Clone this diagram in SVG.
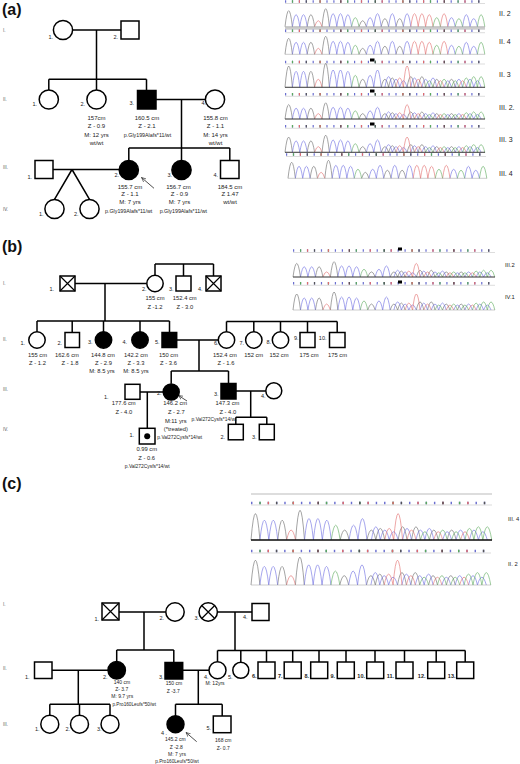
<svg xmlns="http://www.w3.org/2000/svg" width="520" height="764" viewBox="0 0 520 764">
<style>
text{font-family:'Liberation Sans',Arial,sans-serif;fill:#222}
.pl{font-size:16px;font-weight:bold;fill:#111}
.gl{font-size:4.5px;fill:#555}
.nl{font-size:5.5px;text-anchor:end}
.nb{font-weight:bold}
.t6{font-size:6px;text-anchor:middle}
.t58{font-size:5.8px;text-anchor:middle}
.t5{font-size:5px;text-anchor:middle}
.ma{font-size:5.3px;text-anchor:middle}
.mb{font-size:4.9px;text-anchor:middle}
.mc{font-size:4.7px;text-anchor:middle}
.cl{font-size:7px;fill:#222}
.cls{font-size:5.8px;fill:#222}
.ln{stroke:#000;stroke-width:1.5;fill:none}
.s{stroke:#000;stroke-width:1.5;fill:#fff}
.f{fill:#000}
.x{stroke:#000;stroke-width:1.2;fill:none}
.ar{stroke:#222;stroke-width:0.8;fill:none;marker-end:url(#ah)}
.cG,.cC,.cT,.cA{fill:none;stroke-width:0.6;vector-effect:non-scaling-stroke}
.cG{stroke:#666}
.cC{stroke:#6a6ae0}
.cT{stroke:#e06a6a}
.cA{stroke:#5aaa5a}
.bl{stroke:#999;stroke-width:0.5;fill:none;vector-effect:non-scaling-stroke}
.bk{stroke:#222;stroke-width:0.8;fill:none}
</style>
<defs>
<marker id="ah" viewBox="0 0 10 10" refX="9" refY="5" markerWidth="5" markerHeight="5" orient="auto" markerUnits="userSpaceOnUse">
<path d="M0,1L9,5L0,9" fill="none" stroke="#222" stroke-width="1.2"/>
</marker>
<g id="cln">
<path class="cG" d="M0,0q3.7,-32 7.4,0M22.2,0q3.7,-24 7.4,0M37,0q3.7,-36 7.4,0M74,0q3.7,-12 7.4,0M96.2,0q3.7,-16 7.4,0M111,0q3.7,-16 7.4,0"/>
<path class="cC" d="M7.4,0q3.7,-24 7.4,0M14.8,0q3.7,-24 7.4,0M44.4,0q3.7,-26 7.4,0M51.8,0q3.7,-26 7.4,0M59.2,0q3.7,-24 7.4,0M81.4,0q3.7,-18 7.4,0M88.8,0q3.7,-26 7.4,0M103.6,0q3.7,-26 7.4,0M118.4,0q3.7,-26 7.4,0M162.8,0q3.7,-18 7.4,0M177.6,0q3.7,-24 7.4,0M185,0q3.7,-16 7.4,0"/>
<path class="cT" d="M29.6,0q3.7,-12 7.4,0M125.8,0q3.7,-26 7.4,0M133.2,0q3.7,-26 7.4,0M140.6,0q3.7,-24 7.4,0M155.4,0q3.7,-26 7.4,0"/>
<path class="cA" d="M66.6,0q3.7,-18 7.4,0M148,0q3.7,-18 7.4,0M170.2,0q3.7,-16 7.4,0M192.4,0q3.7,-24 7.4,0"/>
<path class="bl" d="M0,0H200"/>
</g>
<g id="het">
<path class="cG" d="M0,0q3.7,-32 7.4,0M22.2,0q3.7,-24 7.4,0M37,0q3.7,-36 7.4,0M74,0q3.7,-12 7.4,0M96.2,0q3.7,-12 7.4,0M103.6,0q3.7,-14 7.4,0M122.1,0q3.7,-16 7.4,0M133.2,0q3.7,-16 7.4,0M148,0q3.7,-12 7.4,0M162.8,0q3.7,-12 7.4,0"/>
<path class="cC" d="M7.4,0q3.7,-24 7.4,0M14.8,0q3.7,-24 7.4,0M44.4,0q3.7,-26 7.4,0M51.8,0q3.7,-26 7.4,0M59.2,0q3.7,-24 7.4,0M81.4,0q3.7,-18 7.4,0M88.8,0q3.7,-26 7.4,0M99.9,0q3.7,-16 7.4,0M107.3,0q3.7,-12 7.4,0M114.7,0q3.7,-10 7.4,0M125.8,0q3.7,-14 7.4,0M136.9,0q3.7,-12 7.4,0M144.3,0q3.7,-14 7.4,0M159.1,0q3.7,-10 7.4,0M170.2,0q3.7,-12 7.4,0M181.3,0q3.7,-12 7.4,0M188.7,0q3.7,-10 7.4,0"/>
<path class="cT" d="M29.6,0q3.7,-12 7.4,0M111,0q3.7,-14 7.4,0M118.4,0q3.7,-32 7.4,0M129.5,0q3.7,-12 7.4,0M151.7,0q3.7,-10 7.4,0M173.9,0q3.7,-10 7.4,0"/>
<path class="cA" d="M66.6,0q3.7,-18 7.4,0M140.6,0q3.7,-10 7.4,0M155.4,0q3.7,-12 7.4,0M166.5,0q3.7,-10 7.4,0M177.6,0q3.7,-14 7.4,0M185,0q3.7,-16 7.4,0M192.4,0q3.7,-16 7.4,0"/>
<path class="bl" d="M0,0H200"/>
</g>
<g id="sq">
<path d="M0,0H200" stroke="#6b6fd0" stroke-width="2.4" stroke-dasharray="1.2 5.7" fill="none"/>
<path d="M6.9,0H200" stroke="#5aaa5a" stroke-width="2.4" stroke-dasharray="1.2 26.4" fill="none"/>
<path d="M13.8,0H200" stroke="#e06a6a" stroke-width="2.4" stroke-dasharray="1.2 19.5" fill="none"/>
<path d="M20.7,0H200" stroke="#555" stroke-width="2.4" stroke-dasharray="1.2 33.3" fill="none"/>
<path d="M0,2H200" stroke="#aaa" stroke-width="0.4" fill="none"/>
</g>
</defs>
<rect width="520" height="764" fill="#fff"/>

<!-- ===== Panel (a) ===== -->
<text class="pl" x="2" y="15">(a)</text>
<g id="a-gen">
<text class="gl" x="3" y="31.5">I.</text>
<text class="gl" x="3" y="101">II.</text>
<text class="gl" x="3" y="169">III.</text>
<text class="gl" x="3" y="211">IV.</text>
</g>
<g id="a-connectors">
<path class="ln" d="M72.6,30H121M96.5,30V89.9M48.8,79.3H146.5M48.8,79.3V89.9M146.5,79.3V90.5M156,99.5H205.4M181.5,99.5V160.4M128.8,148H229.8M128.8,148V160.4M229.8,148V160.5M53,169.5H119.2M72,169.5L54.5,199.4M72,169.5L89.5,199.4"/>
<path class="ar" d="M154,188.3L141.5,177.5"/>
</g>
<g id="a-I1"><circle class="s" cx="63" cy="30" r="9.6"/><text class="nl" x="53" y="38.5">1.</text></g>
<g id="a-I2"><rect class="s" x="121" y="21" width="18" height="18"/><text class="nl" x="118" y="38.5">2.</text></g>
<g id="a-II1"><circle class="s" cx="48.8" cy="99.5" r="9.6"/><text class="nl" x="37" y="106">1.</text></g>
<g id="a-II2"><circle class="s" cx="96.5" cy="99.5" r="9.6"/><text class="nl" x="85" y="106">2.</text>
<text class="t6" x="96.5" y="119.5">157cm</text><text class="t6" x="96.5" y="128">Z - 0.9</text><text class="t6" x="96.5" y="137">M: 12 yrs</text><text class="t6" x="96.5" y="145">wt/wt</text></g>
<g id="a-II3"><rect class="s f" x="137.5" y="90.5" width="18.5" height="18.5"/><text class="nl" x="134" y="104.5">3.</text>
<text class="t6" x="147" y="119.5">160.5 cm</text><text class="t6" x="147" y="128">Z - 2.1</text><text class="ma" x="147.5" y="137">p.Gly199Alafs*11/wt</text></g>
<g id="a-II4"><circle class="s" cx="215" cy="99.5" r="9.6"/><text class="nl" x="206" y="105">4.</text>
<text class="t6" x="215.5" y="119.5">155.8 cm</text><text class="t6" x="215.5" y="128">Z - 1.1</text><text class="t6" x="215.5" y="137">M: 14 yrs</text><text class="t6" x="215.5" y="145">wt/wt</text></g>
<g id="a-III1"><rect class="s" x="35" y="160.5" width="18" height="18"/><text class="nl" x="32" y="179">1.</text></g>
<g id="a-III2"><circle class="s f" cx="128.8" cy="170" r="9.6"/><text class="nl" x="119" y="177">2.</text>
<text class="t6" x="130" y="188.5">155.7 cm</text><text class="t6" x="130" y="196">Z - 1.1</text><text class="t6" x="130" y="204">M: 7 yrs</text><text class="ma" x="128.7" y="212.5">p.Gly199Alafs*11/wt</text></g>
<g id="a-III3"><circle class="s f" cx="181.5" cy="170" r="9.6"/><text class="nl" x="172" y="177">3.</text>
<text class="t6" x="178.5" y="188.5">156.7 cm</text><text class="t6" x="179.5" y="196">Z - 0.9</text><text class="t6" x="179.5" y="204">M: 7 yrs</text><text class="ma" x="183.3" y="212.5">p.Gly199Alafs*11/wt</text></g>
<g id="a-III4"><rect class="s" x="220.5" y="160.5" width="18.5" height="18"/><text class="nl" x="218" y="177">4.</text>
<text class="t6" x="230" y="188.5">184.5 cm</text><text class="t6" x="230" y="196">Z 1.47</text><text class="t6" x="230" y="204">wt/wt</text></g>
<g id="a-IV1"><circle class="s" cx="54.5" cy="209" r="9.6"/><text class="nl" x="43.5" y="216">1.</text></g>
<g id="a-IV2"><circle class="s" cx="89.5" cy="209" r="9.6"/><text class="nl" x="78.5" y="216">2.</text></g>

<g id="a-chromatograms">
<use href="#sq" transform="translate(285,1.5)"/>
<rect x="285" y="26.7" width="200" height="3" fill="#ccc"/>
<use href="#cln" transform="translate(285,26.7)"/>
<use href="#sq" transform="translate(285,30.7)"/>
<use href="#cln" transform="translate(285,54.3)"/>
<rect x="370" y="58.5" width="4.5" height="3" fill="#000"/>
<use href="#sq" transform="translate(285,62)"/>
<use href="#het" transform="translate(285,87.3) scale(1,1.33)"/>
<path class="bk" d="M285,87.3H485"/>
<rect x="370" y="89.5" width="4.5" height="3" fill="#000"/>
<use href="#sq" transform="translate(285,94.3)"/>
<use href="#het" transform="translate(285,119) scale(1,0.9)"/>
<path class="bk" d="M285,119H485"/>
<rect x="370" y="122.5" width="4.5" height="3" fill="#000"/>
<use href="#sq" transform="translate(285,126.3)"/>
<use href="#het" transform="translate(285,152.3) scale(1,0.95)"/>
<path class="bk" d="M285,152.3H485"/>
<use href="#sq" transform="translate(286,154.5)"/>
<use href="#cln" transform="translate(288,178.3) scale(0.995,1)"/>
<text class="cl" x="499" y="15.5">II. 2</text>
<text class="cl" x="499" y="44">II. 4</text>
<text class="cl" x="499" y="77">II. 3</text>
<text class="cl" x="499" y="109.5">III. 2.</text>
<text class="cl" x="499" y="141.5">III. 3</text>
<text class="cl" x="499" y="175.5">III. 4</text>
</g>

<!-- ===== Panel (b) ===== -->
<text class="pl" x="2" y="252">(b)</text>
<g id="b-gen">
<text class="gl" x="3" y="284.5">I.</text>
<text class="gl" x="3" y="341">II.</text>
<text class="gl" x="3" y="391">III.</text>
<text class="gl" x="3" y="431">IV.</text>
</g>
<g id="b-connectors">
<path class="ln" d="M155,264H213.5M155,264V275.3M183.5,264V276M213.5,264V276M75,283.5H146.8M105,283.5V321M37,321H169.5M37,321V331.8M72.2,321V332.5M103.5,321V331.8M140,321V331.8M169.5,321V332.5M176.7,340H218.3M199,340V371M226.5,321.5H337.2M226.5,321.5V331.8M253.8,321.5V331.8M280.5,321.5V331.8M307.5,321.5V332.5M337.2,321.5V332.5M171.2,371H228.5M171.2,371V383.8M228.5,371V383.5M140,392H163M147.3,392V428.3M236,391H265.8M250.7,391V417.3M235.8,417.3H266.8M235.8,417.3V424.3M266.8,417.3V424.3"/>
<path class="ar" d="M187,401L178.5,395.5"/>
</g>
<g id="b-I1"><rect class="s" x="60" y="276" width="15" height="15"/><path class="x" d="M60,276L75,291M75,276L60,291"/><text class="nl" x="54" y="291">1.</text></g>
<g id="b-I2"><circle class="s" cx="155" cy="283.5" r="8.2"/><text class="nl" x="146.5" y="291">2.</text>
<text class="t58" x="155" y="300">155 cm</text><text class="t58" x="155" y="308.5">Z -1.2</text></g>
<g id="b-I3"><rect class="s" x="176" y="276" width="15" height="15"/><text class="nl" x="173.5" y="291">3.</text>
<text class="t58" x="184.8" y="300">152.4 cm</text><text class="t58" x="184.8" y="308.5">Z - 3.0</text></g>
<g id="b-I4"><rect class="s" x="206" y="276" width="15" height="15"/><path class="x" d="M206,276L221,291M221,276L206,291"/><text class="nl" x="202.5" y="291">4.</text></g>
<g id="b-II1"><circle class="s" cx="37" cy="340" r="8.2"/><text class="nl" x="25" y="345">1.</text>
<text class="t58" x="37.5" y="357">155 cm</text><text class="t58" x="37.5" y="365">Z - 1.2</text></g>
<g id="b-II2"><rect class="s" x="65" y="332.5" width="14.5" height="15"/><text class="nl" x="62" y="345">2.</text>
<text class="t58" x="67" y="357">162.6 cm</text><text class="t58" x="70" y="365">Z - 1.8</text></g>
<g id="b-II3"><circle class="s f" cx="103.5" cy="340" r="8.2"/><text class="nl" x="92.5" y="344">3.</text>
<text class="t58" x="103" y="357">144.8 cm</text><text class="t58" x="103.5" y="365">Z - 2.9</text><text class="t58" x="102" y="372.5">M: 8.5 yrs</text></g>
<g id="b-II4"><circle class="s f" cx="140" cy="340" r="8.2"/><text class="nl" x="127" y="344">4.</text>
<text class="t58" x="136" y="357">142.2 cm</text><text class="t58" x="136" y="365">Z - 3.3</text><text class="t58" x="136" y="372.5">M: 8.5 yrs</text></g>
<g id="b-II5"><rect class="s f" x="162" y="332.5" width="14.7" height="15"/><text class="nl" x="159.5" y="344">5.</text>
<text class="t58" x="168.5" y="357">150 cm</text><text class="t58" x="168.5" y="365">Z - 3.6</text></g>
<g id="b-II6"><circle class="s" cx="226.5" cy="340" r="8.2"/><text class="nl" x="218.5" y="345">6.</text>
<text class="t58" x="225" y="357">152.4 cm</text><text class="t58" x="226" y="365">Z - 1.6</text></g>
<g id="b-II7"><circle class="s" cx="253.8" cy="340" r="8.2"/><text class="nl" x="244" y="345">7.</text>
<text class="t58" x="253.7" y="357">152 cm</text></g>
<g id="b-II8"><circle class="s" cx="280.5" cy="340" r="8.2"/><text class="nl" x="271" y="344">8.</text>
<text class="t58" x="279" y="357">152 cm</text></g>
<g id="b-II9"><rect class="s" x="300" y="332.5" width="15" height="15"/><text class="nl" x="298.5" y="340">9.</text>
<text class="t58" x="309" y="357">175 cm</text></g>
<g id="b-II10"><rect class="s" x="329.5" y="332.5" width="15.5" height="15"/><text class="nl" x="326.5" y="340">10.</text>
<text class="t58" x="337.5" y="357">175 cm</text></g>
<g id="b-III1"><rect class="s" x="125" y="384.3" width="15" height="15"/><text class="nl" x="108.5" y="398.5">1.</text>
<text class="t58" x="123.8" y="405">177.6 cm</text><text class="t58" x="123.8" y="413.5">Z - 4.0</text></g>
<g id="b-III2"><circle class="s f" cx="171.2" cy="392" r="8"/><text class="nl" x="161.5" y="395">2.</text>
<text class="t58" x="175.3" y="405">146.2 cm</text><text class="t58" x="176.3" y="413.5">Z - 2.7</text><text class="t58" x="175.8" y="422.5">M:11 yrs</text><text class="t58" x="175.8" y="430.5">(*treated)</text></g>
<g id="b-III3"><rect class="s f" x="221" y="383.5" width="15" height="15.5"/><text class="nl" x="218.5" y="396">3.</text>
<text class="t58" x="227.5" y="405">147.3 cm</text><text class="t58" x="227.8" y="413.5">Z - 4.0</text><text class="mb" x="214" y="420.8">p.Val272Cysfs*14/wt</text></g>
<g id="b-III4"><circle class="s" cx="273.8" cy="390.8" r="8"/><text class="nl" x="265.5" y="398">4.</text></g>
<g id="b-IV1"><rect class="s" x="139.3" y="428.3" width="15.7" height="15.7"/><circle class="f" cx="147.2" cy="436.2" r="3"/><text class="nl" x="134" y="437">1.</text>
<text class="mb" x="179.7" y="439">p.Val272Cysfs*14/wt</text>
<text class="t58" x="146.7" y="451">0.99 cm</text><text class="t58" x="146.7" y="460">Z - 0.6</text><text class="mb" x="147.2" y="468">p.Val272Cysfs*14/wt</text></g>
<g id="b-IV2"><rect class="s" x="228.3" y="424.3" width="15" height="15.5"/><text class="nl" x="225" y="438.5">2.</text></g>
<g id="b-IV3"><rect class="s" x="259.3" y="424.3" width="15" height="15.5"/><text class="nl" x="256.5" y="438.5">3.</text></g>

<g id="b-chromatograms">
<use href="#sq" transform="translate(293,250.5) scale(1.01,1)"/>
<rect x="398" y="247.5" width="4" height="3" fill="#000"/>
<use href="#het" transform="translate(293,277) scale(1.01,0.85)"/>
<path class="bk" d="M293,277H495"/>
<use href="#sq" transform="translate(293,283.3) scale(1.01,1)"/>
<rect x="398" y="280.5" width="4" height="3" fill="#000"/>
<use href="#het" transform="translate(293,310) scale(1.01,1)"/>
<text class="cls" x="505" y="267">III.2</text>
<text class="cls" x="505" y="298.5">IV.1</text>
</g>

<!-- ===== Panel (c) ===== -->
<text class="pl" x="2" y="489">(c)</text>
<g id="c-gen">
<text class="gl" x="3" y="605.5">I.</text>
<text class="gl" x="3" y="670">II.</text>
<text class="gl" x="3" y="725.5">III.</text>
</g>
<g id="c-connectors">
<path class="ln" d="M119,612H165.8M144,612V650M116.7,650H173.8M116.7,650V661.6M173.8,650V662.5M217.4,612H252M235,612V650.5M217.5,650.5H465.3M217.5,650.5V661.8M240.8,650.5V662.3M266.5,650.5V662M292.7,650.5V662M319,650.5V662M346,650.5V662M375,650.5V662M404.5,650.5V662M436.2,650.5V662M465.2,650.5V662M52,670.3H108M78.3,670.3V704.3M49.8,704.3H110M49.8,704.3V715.2M79.5,704.3V715.2M110,704.3V715.2M182.7,670.3H209M198.3,670.3V704.3M175.5,704.3H222.2M175.5,704.3V715.7M222.2,704.3V716"/>
<path class="ar" d="M196.7,741.7L186,732.5"/>
</g>
<g id="c-I1"><rect class="s" x="102" y="603" width="17" height="17"/><path class="x" d="M102,603L119,620M119,603L102,620"/><text class="nl" x="99" y="620.5">1.</text></g>
<g id="c-I2"><circle class="s" cx="175" cy="612" r="9.2"/><text class="nl" x="164" y="620">2.</text></g>
<g id="c-I3"><circle class="s" cx="208.2" cy="612" r="9.2"/><path class="x" d="M201.7,605.5L214.7,618.5M214.7,605.5L201.7,618.5"/><text class="nl" x="199" y="620">3.</text></g>
<g id="c-I4"><rect class="s" x="252" y="603.5" width="17" height="17"/><text class="nl" x="247.5" y="619">4.</text></g>
<g id="c-II1"><rect class="s" x="34.5" y="662" width="17.5" height="16.5"/><text class="nl" x="29.5" y="678.5">1.</text></g>
<g id="c-II2"><circle class="s f" cx="116.7" cy="670.3" r="8.7"/><text class="nl" x="107.5" y="678.5">2.</text>
<text class="t5" x="122" y="684">140 cm</text><text class="t5" x="121.7" y="690.5">Z- 3.7</text><text class="t5" x="122.2" y="698">M: 9.7 yrs</text><text class="mc" x="134.2" y="705.5">p.Pro160Leufs*50/wt</text></g>
<g id="c-II3"><rect class="s f" x="165" y="662.5" width="17.7" height="16.5"/><text class="nl" x="163.5" y="678.5">3.</text>
<text class="t5" x="174" y="685">150 cm</text><text class="t5" x="173.3" y="692.5">Z -3.7</text></g>
<g id="c-II4"><circle class="s" cx="217.5" cy="670.3" r="8.5"/><text class="nl" x="208.5" y="678.5">4.</text>
<text class="t5" x="215" y="684.5">M: 12yrs</text></g>
<g id="c-II5"><circle class="s" cx="240.8" cy="670.3" r="8"/><text class="nl" x="232.5" y="678.5">5.</text></g>
<g id="c-II6"><rect class="s" x="258" y="662" width="17" height="16.5"/><text class="nl nb" x="256.5" y="678">6.</text></g>
<g id="c-II7"><rect class="s" x="284.2" y="662" width="17" height="16.5"/><text class="nl nb" x="282.5" y="678">7.</text></g>
<g id="c-II8"><rect class="s" x="310.7" y="662" width="17" height="16.5"/><text class="nl nb" x="309" y="678">8.</text></g>
<g id="c-II9"><rect class="s" x="337.3" y="662" width="17" height="16.5"/><text class="nl nb" x="335" y="678">9.</text></g>
<g id="c-II10"><rect class="s" x="366.7" y="662" width="17" height="16.5"/><text class="nl nb" x="365" y="678">10.</text></g>
<g id="c-II11"><rect class="s" x="396" y="662" width="17" height="16.5"/><text class="nl nb" x="394" y="678">11.</text></g>
<g id="c-II12"><rect class="s" x="427.7" y="662" width="17" height="16.5"/><text class="nl nb" x="425.5" y="678">12.</text></g>
<g id="c-II13"><rect class="s" x="456.7" y="662" width="17" height="16.5"/><text class="nl nb" x="455.5" y="678">13.</text></g>
<g id="c-III1"><circle class="s" cx="49.8" cy="724.2" r="9"/><text class="nl" x="39.5" y="731">1.</text></g>
<g id="c-III2"><circle class="s" cx="79.5" cy="724.2" r="9"/><text class="nl" x="70" y="731">2.</text></g>
<g id="c-III3"><circle class="s" cx="110" cy="724.2" r="9"/><text class="nl" x="101.5" y="731">3.</text></g>
<g id="c-III4"><circle class="s f" cx="175.5" cy="724.2" r="8.5"/><text class="nl" x="167" y="735">4 .</text>
<text class="t5" x="175.3" y="741">145.2 cm</text><text class="t5" x="176.3" y="749">Z -2.8</text><text class="t5" x="177" y="756">M: 7 yrs</text><text class="mc" x="177" y="763">p.Pro160Leufs*50/wt</text></g>
<g id="c-III5"><rect class="s" x="213.3" y="716" width="17.7" height="16.7"/><text class="nl" x="211" y="730">5.</text>
<text class="t5" x="223.3" y="742">168 cm</text><text class="t5" x="223.3" y="749.5">Z- 0.7</text></g>

<g id="c-chromatograms">
<path d="M251,494H492" stroke="#aaa" stroke-width="0.8" fill="none"/>
<use href="#sq" transform="translate(251,503) scale(1.205,1)"/>
<use href="#het" transform="translate(251,540) scale(1.205,1.65)"/>
<path d="M251,540H492" stroke="#111" stroke-width="1.6" fill="none"/>
<use href="#sq" transform="translate(251,551) scale(1.2,1)"/>
<use href="#het" transform="translate(251,585) scale(1.2,1.55)"/>
<text class="cls" x="508" y="521">III. 4</text>
<text class="cls" x="508" y="566">II. 2</text>
</g>
</svg>
